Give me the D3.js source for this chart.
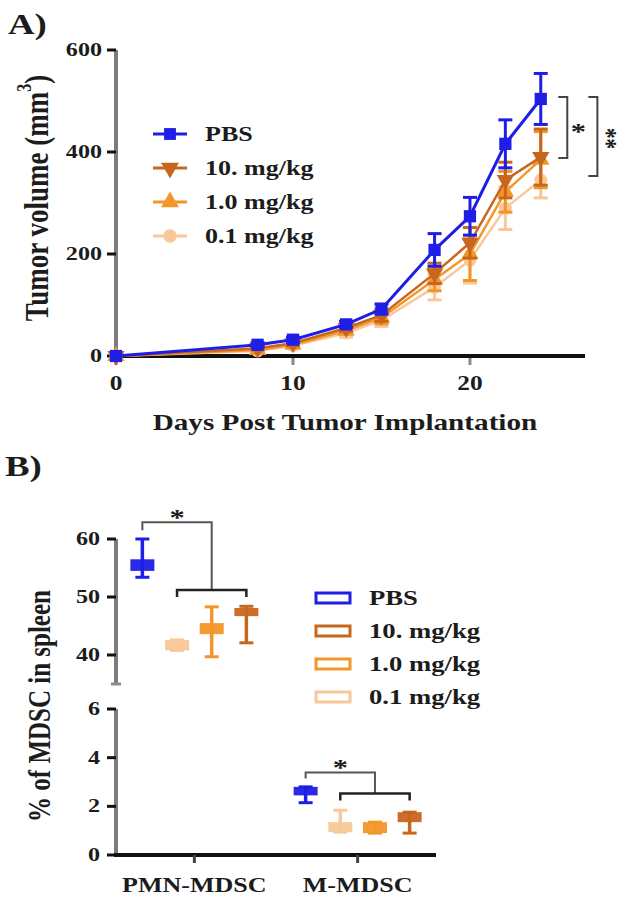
<!DOCTYPE html>
<html><head><meta charset="utf-8">
<script src="https://cdn.jsdelivr.net/npm/d3@7"></script>
<style>
body{margin:0;background:#fff}
text{font-family:"Liberation Serif","Times New Roman",serif;font-weight:bold;fill:#1c1c1c}
</style>
</head><body>
<svg id="c" width="622" height="903"></svg>
<script>
// ---------- Panel A data ----------
const days = [0, 8, 10, 13, 15, 18, 20, 22, 24];
const seriesNames = ["PBS", "10. mg/kg", "1.0 mg/kg", "0.1 mg/kg"];
const pbsMean  = [0, 22, 32, 62, 92, 208, 274, 416, 504];
const pbsSem   = [0, 4, 5, 6, 10, 32, 37, 47, 50];
const mg10Mean = [0, 15, 25, 55, 80, 162, 222, 345, 390];
const mg10Sem  = [0, 3, 5, 7, 12, 20, 30, 35, 55];
const mg1Mean  = [0, 12, 22, 50, 75, 150, 200, 322, 385];
const mg1Sem   = [0, 3, 5, 7, 12, 22, 52, 40, 55];
const mg01Mean = [0, 10, 20, 45, 70, 135, 188, 290, 345];
const mg01Sem  = [0, 3, 4, 8, 12, 25, 45, 42, 35];
const yTicksA = [0, 200, 400, 600];
const xTicksA = [0, 10, 20];
// significance brackets (data units): [day, from, to]
const sigA = [{day: 25.5, from: 508, to: 388, label: "*"}, {day: 27.2, from: 508, to: 353, label: "**"}];

// ---------- Panel B data ----------
const groups = ["PMN-MDSC", "M-MDSC"];
const treatOrder = ["PBS", "0.1 mg/kg", "1.0 mg/kg", "10. mg/kg"];
// per treatment: [min, boxLo, boxHi, max]
const pmnVals = {
  "PBS":       [53.4, 54.5, 56.5, 60.0],
  "0.1 mg/kg": [40.8, 40.8, 42.6, 42.6],
  "1.0 mg/kg": [39.7, 43.6, 45.5, 48.3],
  "10. mg/kg": [42.1, 46.7, 48.1, 48.4]
};
const mVals = {
  "PBS":       [2.15, 2.45, 2.80, 2.80],
  "0.1 mg/kg": [0.94, 0.94, 1.35, 1.84],
  "1.0 mg/kg": [0.90, 0.90, 1.35, 1.35],
  "10. mg/kg": [0.90, 1.35, 1.76, 1.76]
};
const yTicksBHi = [40, 50, 60];
const yTicksBLo = [0, 2, 4, 6];
const bracketPMN = {top: 62.9, leftDrop: 61.5, low: 51.2, lowDrop: 50.0, star: 64.6};
const bracketM = {top: 3.39, leftDrop: 3.14, low: 2.53, lowDrop: 2.24, star: 3.8};

const colors = {"PBS": "#1e1ee6", "10. mg/kg": "#c8661e", "1.0 mg/kg": "#f3962a", "0.1 mg/kg": "#f8c898"};

// ---------- helpers ----------
const SX = 1.27;
const svg = d3.select("#c");
function T(g, s, x, y, size, anchor, rot) {
  return g.append("text")
    .attr("transform", `translate(${x},${y}) scale(${SX},1)` + (rot ? ` rotate(${rot})` : ""))
    .attr("font-size", size).attr("text-anchor", anchor || "start")
    .attr("dominant-baseline", "central").text(s);
}

// ================= Panel A =================
const gA = svg.append("g");
const xA = d3.scaleLinear().domain([0, 26.5]).range([116, 585]);
const yA = d3.scaleLinear().domain([0, 600]).range([356, 50]);

T(gA, "A)", 8, 24, 29, "start");

// axes
gA.append("line").attr("x1", xA(0)).attr("x2", xA(0)).attr("y1", yA(600)).attr("y2", yA(0))
  .attr("stroke", "#7d7d7d").attr("stroke-width", 4);
yTicksA.forEach(v => {
  gA.append("line").attr("x1", xA(0) - 9).attr("x2", xA(0)).attr("y1", yA(v)).attr("y2", yA(v))
    .attr("stroke", "#111").attr("stroke-width", 3);
  T(gA, String(v), xA(0) - 14, yA(v), 19, "end");
});
xTicksA.forEach(v => {
  gA.append("line").attr("x1", xA(v)).attr("x2", xA(v)).attr("y1", yA(0)).attr("y2", yA(0) + 9)
    .attr("stroke", "#8a8a8a").attr("stroke-width", 3);
  T(gA, String(v), xA(v), yA(0) + 27, 20, "middle");
});
gA.append("line").attr("x1", xA(0) - 2).attr("x2", xA(26.5)).attr("y1", yA(0)).attr("y2", yA(0))
  .attr("stroke", "#111").attr("stroke-width", 4);

T(gA, "Days Post Tumor Implantation", 345, 423, 23, "middle");
const yl = T(gA, "", 37, 198, 27, "middle", -90);
yl.text(null);
yl.append("tspan").text("Tumor volume (mm");
yl.append("tspan").attr("font-size", 16).attr("dy", -10).text("3");
yl.append("tspan").attr("dy", 10).text(")");

const seriesA = [
  {name: "0.1 mg/kg", mean: mg01Mean, sem: mg01Sem, sym: d3.symbolCircle, rot: 0},
  {name: "1.0 mg/kg", mean: mg1Mean, sem: mg1Sem, sym: d3.symbolTriangle, rot: 0},
  {name: "10. mg/kg", mean: mg10Mean, sem: mg10Sem, sym: d3.symbolTriangle, rot: 180},
  {name: "PBS", mean: pbsMean, sem: pbsSem, sym: d3.symbolSquare, rot: 0}
];
const line = d3.line().x(d => xA(d[0])).y(d => yA(d[1]));
seriesA.forEach(s => {
  const c = colors[s.name];
  const g = gA.append("g");
  g.append("path").datum(days.map((d, i) => [d, s.mean[i]])).attr("d", line)
    .attr("fill", "none").attr("stroke", c).attr("stroke-width", s.name === "PBS" ? 3 : 2.5);
  days.forEach((d, i) => {
    if (s.sem[i] > 0) {
      const x = xA(d), y1 = yA(s.mean[i] + s.sem[i]), y2 = yA(s.mean[i] - s.sem[i]);
      g.append("line").attr("x1", x).attr("x2", x).attr("y1", y1).attr("y2", y2).attr("stroke", c).attr("stroke-width", 3);
      [y1, y2].forEach(yy => g.append("line").attr("x1", x - 7).attr("x2", x + 7).attr("y1", yy).attr("y2", yy).attr("stroke", c).attr("stroke-width", 3));
    }
    g.append("path").attr("d", d3.symbol(s.sym, s.name === "PBS" ? 150 : 130)())
      .attr("transform", `translate(${xA(d)},${yA(s.mean[i])}) rotate(${s.rot})`).attr("fill", c);
  });
});

// significance brackets A
sigA.forEach((b, k) => {
  const x = xA(b.day);
  gA.append("path").attr("d", `M${x - 9},${yA(b.from)}H${x}V${yA(b.to)}H${x - 9}`)
    .attr("fill", "none").attr("stroke", "#444").attr("stroke-width", 2);
  if (k === 0) T(gA, b.label, x + 11, yA((b.from + b.to) / 2) + 4, 24, "middle");
  else T(gA, b.label, x + 10, yA((b.from + b.to) / 2) + 2, 21, "middle", 90);
});

// legend A
const legA = gA.append("g");
const legSyms = {"PBS": [d3.symbolSquare, 0], "10. mg/kg": [d3.symbolTriangle, 180], "1.0 mg/kg": [d3.symbolTriangle, 0], "0.1 mg/kg": [d3.symbolCircle, 0]};
seriesNames.forEach((n, i) => {
  const y = 134 + i * 34;
  legA.append("line").attr("x1", 153).attr("x2", 187).attr("y1", y).attr("y2", y).attr("stroke", colors[n]).attr("stroke-width", 3);
  legA.append("path").attr("d", d3.symbol(legSyms[n][0], 140)()).attr("transform", `translate(170,${y}) rotate(${legSyms[n][1]})`).attr("fill", colors[n]);
  T(legA, n, 205, y, 20.5, "start");
});

// ================= Panel B =================
const gB = svg.append("g");
T(gB, "B)", 5, 466, 29, "start");
const yHi = d3.scaleLinear().domain([35, 60]).range([684, 539]);
const yLo = d3.scaleLinear().domain([0, 6]).range([855, 709]);
const xB = d3.scalePoint().domain(groups).range([116, 436]).padding(0.48);
const xInner = d3.scalePoint().domain(treatOrder).range([-52, 52]);

gB.append("line").attr("x1", 116).attr("x2", 116).attr("y1", yHi(60)).attr("y2", yHi(35)).attr("stroke", "#7d7d7d").attr("stroke-width", 4);
gB.append("line").attr("x1", 116).attr("x2", 116).attr("y1", yLo(6)).attr("y2", yLo(0)).attr("stroke", "#7d7d7d").attr("stroke-width", 4);
gB.append("line").attr("x1", 111).attr("x2", 121).attr("y1", yHi(35)).attr("y2", yHi(35)).attr("stroke", "#8a8a8a").attr("stroke-width", 3);
[[yTicksBHi, yHi], [yTicksBLo, yLo]].forEach(([ticks, sc]) => ticks.forEach(v => {
  gB.append("line").attr("x1", 107).attr("x2", 116).attr("y1", sc(v)).attr("y2", sc(v)).attr("stroke", "#111").attr("stroke-width", 3);
  T(gB, String(v), 100, sc(v), 19, "end");
}));
gB.append("line").attr("x1", 114).attr("x2", 436).attr("y1", yLo(0)).attr("y2", yLo(0)).attr("stroke", "#111").attr("stroke-width", 4);
groups.forEach(gn => {
  gB.append("line").attr("x1", xB(gn)).attr("x2", xB(gn)).attr("y1", yLo(0)).attr("y2", yLo(0) + 8).attr("stroke", "#444").attr("stroke-width", 3);
  T(gB, gn, xB(gn), 885, 20.5, "middle");
});
T(gB, "% of MDSC in spleen", 39, 706, 25, "middle", -90);

function drawBoxes(vals, gname, sc) {
  treatOrder.forEach(t => {
    const [mn, lo, hi, mx] = vals[t];
    const cx = xB(gname) + xInner(t), c = colors[t];
    const g = gB.append("g");
    g.append("line").attr("x1", cx).attr("x2", cx).attr("y1", sc(mx)).attr("y2", sc(mn)).attr("stroke", c).attr("stroke-width", 3.5);
    [mn, mx].forEach(v => g.append("line").attr("x1", cx - 7).attr("x2", cx + 7).attr("y1", sc(v)).attr("y2", sc(v)).attr("stroke", c).attr("stroke-width", 3));
    g.append("rect").attr("x", cx - 12).attr("width", 24).attr("y", sc(hi)).attr("height", Math.max(sc(lo) - sc(hi), 3)).attr("fill", c).attr("opacity", 0.95);
  });
}
drawBoxes(pmnVals, "PMN-MDSC", yHi);
drawBoxes(mVals, "M-MDSC", yLo);

function bracket(gname, b, sc) {
  const xP = xB(gname) + xInner("PBS"), xM = xB(gname) + xInner("1.0 mg/kg");
  const xL1 = xB(gname) + xInner("0.1 mg/kg"), xL2 = xB(gname) + xInner("10. mg/kg");
  gB.append("path").attr("d", `M${xP},${sc(b.leftDrop)}V${sc(b.top)}H${xM}V${sc(b.low)}`).attr("fill", "none").attr("stroke", "#555").attr("stroke-width", 2);
  gB.append("path").attr("d", `M${xL1},${sc(b.lowDrop)}V${sc(b.low)}H${xL2}V${sc(b.lowDrop)}`).attr("fill", "none").attr("stroke", "#222").attr("stroke-width", 2.5);
  T(gB, "*", (xP + xM) / 2, sc(b.star) + 5, 24, "middle");
}
bracket("PMN-MDSC", bracketPMN, yHi);
bracket("M-MDSC", bracketM, yLo);

// legend B
const legOrder = ["PBS", "10. mg/kg", "1.0 mg/kg", "0.1 mg/kg"];
legOrder.forEach((n, i) => {
  const y = 598 + i * 33;
  gB.append("rect").attr("x", 316).attr("y", y - 5).attr("width", 34).attr("height", 10).attr("fill", "#fff").attr("stroke", colors[n]).attr("stroke-width", 3);
  T(gB, n, 369, y, 21, "start");
});
</script>
</body></html>
